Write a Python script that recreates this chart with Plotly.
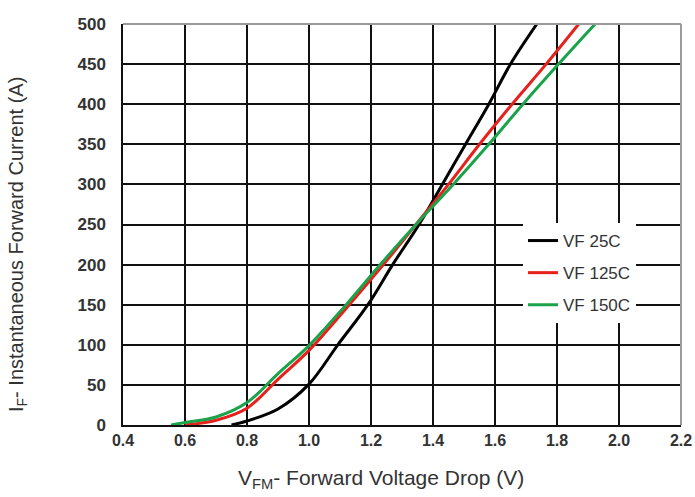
import plotly.graph_objects as go

# Data
vf_25c_x = [0.75, 0.80, 0.90, 1.00, 1.093, 1.19, 1.27, 1.355, 1.43, 1.505, 1.58, 1.65, 1.735]
vf_25c_y = [0, 5, 20, 51, 100, 150, 200, 250, 300, 350, 400, 450, 500]

vf_125c_x = [0.60, 0.70, 0.80, 0.90, 1.00, 1.13, 1.24, 1.345, 1.45, 1.55, 1.655, 1.765, 1.87]
vf_125c_y = [0, 6, 21, 57, 93, 150, 200, 250, 300, 350, 400, 450, 500]

vf_150c_x = [0.555, 0.60, 0.70, 0.80, 0.90, 1.00, 1.12, 1.23, 1.345, 1.465, 1.58, 1.69, 1.805, 1.923]
vf_150c_y = [0, 3, 10, 28, 64, 99, 150, 200, 250, 300, 350, 400, 450, 500]

series_names = ["VF 25C", "VF 125C", "VF 150C"]
series_colors = ["#000000", "#e8201c", "#1aa34a"]

x_ticks = [0.4, 0.6, 0.8, 1.0, 1.2, 1.4, 1.6, 1.8, 2.0, 2.2]
y_ticks = [0, 50, 100, 150, 200, 250, 300, 350, 400, 450, 500]

FONT = "Arial, Liberation Sans, sans-serif"

fig = go.Figure()
for name, xs, ys, col in zip(series_names,
                             [vf_25c_x, vf_125c_x, vf_150c_x],
                             [vf_25c_y, vf_125c_y, vf_150c_y],
                             series_colors):
    fig.add_trace(go.Scatter(
        x=xs, y=ys, name=name, mode="lines",
        line=dict(color=col, width=3, shape="spline", smoothing=1.0),
        legendgroup=name,
    ))

L, R, T, B = 123, 14, 24, 72
W, H = 695, 497
pw, ph = W - L - R, H - T - B

def px_x(p):
    return (p - L) / pw

def px_y(p):
    return 1 - (p - T) / ph

fig.update_layout(
    width=W, height=H,
    margin=dict(l=L, r=R, t=T, b=B),
    paper_bgcolor="white", plot_bgcolor="white",
    font=dict(family=FONT, color="#333333"),
    legend=dict(
        x=px_x(523), y=px_y(223), xanchor="left", yanchor="top",
        bgcolor="white", borderwidth=0,
        font=dict(family=FONT, size=17, color="#333333"),
        tracegroupgap=7,
        traceorder="grouped",
    ),
    shapes=[
        dict(type="rect", xref="paper", yref="paper",
             x0=px_x(488), x1=px_x(660), y0=px_y(319), y1=px_y(222),
             fillcolor="white", line=dict(width=0), layer="between"),
        dict(type="line", xref="paper", yref="paper", x0=0, x1=1, y0=1, y1=1,
             line=dict(color="#9a9a9a", width=2), layer="above"),
        dict(type="line", xref="paper", yref="paper", x0=1, x1=1, y0=0, y1=1,
             line=dict(color="#9a9a9a", width=2), layer="above"),
    ],
    annotations=[
        dict(text="I<sub>F</sub>- Instantaneous Forward Current (A)",
             xref="paper", yref="paper", x=px_x(17), y=px_y(245),
             xanchor="center", yanchor="middle", textangle=-90, showarrow=False,
             font=dict(family=FONT, size=20, color="#333333")),
        dict(text="V<sub>FM</sub>- Forward Voltage Drop (V)",
             xref="paper", yref="paper", x=px_x(381), y=px_y(479),
             xanchor="center", yanchor="middle", showarrow=False,
             font=dict(family=FONT, size=21, color="#333333")),
    ],
)

fig.update_xaxes(
    range=[0.4, 2.2], tickvals=x_ticks, ticktext=[f"{v:.1f}" for v in x_ticks],
    showgrid=True, gridcolor="#111111", gridwidth=1.5,
    showline=True, linecolor="#111111", linewidth=1.5,
    zeroline=False, ticks="", automargin=False, ticklabeloverflow="allow",
    tickfont=dict(family=FONT, size=16, color="#333333", weight="bold"),
)
fig.update_yaxes(
    range=[0, 500], tickvals=y_ticks,
    showgrid=True, gridcolor="#111111", gridwidth=1.5,
    showline=True, linecolor="#111111", linewidth=1.5,
    zeroline=False, ticks="", ticklabelstandoff=12, automargin=False,
    tickfont=dict(family=FONT, size=17, color="#333333", weight="bold"),
)

fig.write_html("out.html", post_script="document.body.style.margin='0';",
               config={"displayModeBar": False})
